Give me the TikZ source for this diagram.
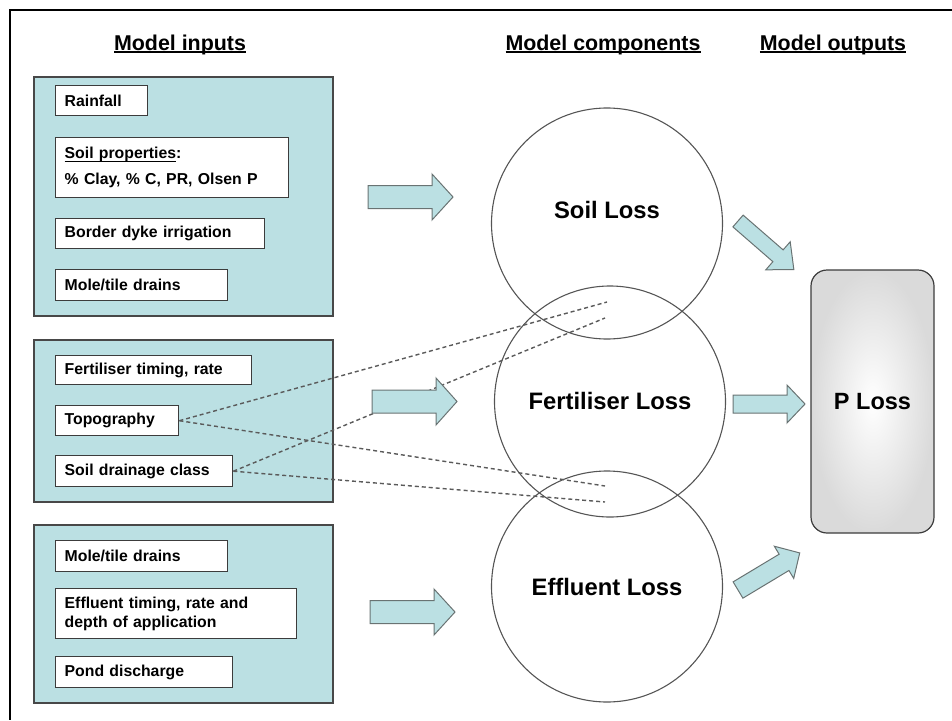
\documentclass[tikz,border=0pt]{standalone}
\usepackage{fontspec}
\setmainfont{Liberation Sans}
\definecolor{panelfill}{RGB}{187,224,227}
\definecolor{panelline}{RGB}{72,72,72}
\definecolor{boxline}{RGB}{60,60,60}
\definecolor{arrline}{RGB}{105,115,115}
\definecolor{circline}{RGB}{85,85,85}
\definecolor{dashcol}{RGB}{90,90,90}
\definecolor{plossout}{RGB}{218,218,218}
\newcommand{\myul}[2]{\setbox0\hbox{#2}\rlap{\rule[-3pt]{\wd0}{#1}}\box0}
\newcommand{\blockarrow}[6]{%
  \begin{scope}[shift={#1}, rotate=#2]
    \draw[barrow] (0,#4) -- ({#3-#6},#4) -- ({#3-#6},#5) -- (#3,0) -- ({#3-#6},-#5) -- ({#3-#6},-#4) -- (0,-#4) -- cycle;
  \end{scope}}
\begin{document}
\begin{tikzpicture}[x=1pt,y=-1pt,
  frame/.style={draw=black, line width=1.2pt},
  panel/.style={draw=panelline, fill=panelfill, line width=1.6pt, inner sep=0pt},
  inbox/.style={draw=boxline, fill=white, line width=1.4pt, anchor=north west,
    inner xsep=9pt, inner ysep=0pt, align=left,
    font=\bfseries\fontsize{15.8}{18}\selectfont},
  title/.style={anchor=base, font=\bfseries\fontsize{21.4}{24}\selectfont},
  circ/.style={draw=circline, circle, line width=1.1pt, minimum size=231pt, inner sep=0pt},
  ctext/.style={anchor=base, font=\bfseries\fontsize{23.8}{26}\selectfont},
  dashline/.style={draw=dashcol, line width=1.4pt, dash pattern=on 4pt off 3pt},
  barrow/.style={draw=arrline, fill=panelfill, line width=1pt, line join=miter},
  ploss/.style={draw=boxline, line width=1.2pt, rounded corners=16pt,
    minimum width=123pt, minimum height=263pt, inner color=white, outer color=plossout,
    font=\bfseries\fontsize{23.5}{26}\selectfont}
]
\useasboundingbox (0,0) rectangle (952,720);

% frame
\coordinate (fTR) at (952,10);
\coordinate (fTL) at (10,10);
\coordinate (fBL) at (10,720);
\draw[frame] (fTR) -- (fTL) -- (fBL);

% titles
\node[title] (t1) at (180,50) {\myul{1.6pt}{Model inputs}};
\node[title] (t2) at (603,50) {\myul{1.6pt}{Model components}};
\node[title] (t3) at (833,50) {\myul{1.6pt}{Model outputs}};

% panels
\node[panel, minimum width=299pt, minimum height=239pt] (p1) at (183.5,196.5) {};
\node[panel, minimum width=299pt, minimum height=162pt] (p2) at (183.5,421) {};
\node[panel, minimum width=299pt, minimum height=178pt] (p3) at (183.5,614) {};

% input boxes
\node[inbox, minimum width=92pt, minimum height=30pt, text width=74pt] (rain) at (55,85) {Rainfall};
\node[inbox, minimum width=233pt, minimum height=60pt, text width=215pt,
  font=\bfseries\fontsize{15.8}{26}\selectfont] (soilp) at (55,137)
  {\myul{1pt}{Soil properties}:\\\% Clay, \% C, PR, Olsen P};
\node[inbox, minimum width=209pt, minimum height=30pt, text width=191pt] (bdi) at (55,218) {Border dyke irrigation};
\node[inbox, minimum width=172pt, minimum height=31pt, text width=154pt] (mole1) at (55,269) {Mole/tile drains};

\node[inbox, minimum width=196pt, minimum height=29pt, text width=178pt] (fert) at (55,355) {Fertiliser timing, rate};
\node[inbox, minimum width=123pt, minimum height=30pt, text width=105pt] (topo) at (55,405) {Topography};
\node[inbox, minimum width=177pt, minimum height=31pt, text width=159pt] (sdc) at (55,455) {Soil drainage class};

\node[inbox, minimum width=172pt, minimum height=31pt, text width=154pt] (mole2) at (55,540) {Mole/tile drains};
\node[inbox, minimum width=241pt, minimum height=50pt, text width=223pt,
  font=\bfseries\fontsize{15.8}{19}\selectfont] (eff) at (55,588)
  {Effluent timing, rate and\\depth of application};
\node[inbox, minimum width=177pt, minimum height=31pt, text width=159pt] (pond) at (55,656) {Pond discharge};

% circles
\node[circ] (cs) at (607,223.5) {};
\node[circ] (cf) at (610,401.5) {};
\node[circ] (ce) at (607,586.5) {};
\node[ctext] (ts) at (607,218.5) {Soil Loss};
\node[ctext] (tf) at (610,409.5) {Fertiliser Loss};
\node[ctext] (te) at (607,595.5) {Effluent Loss};

% dashed links
\coordinate (d1) at (607,302);
\coordinate (d2) at (605,486);
\coordinate (d3) at (605,318);
\coordinate (d4) at (605,502);
\draw[dashline] (topo.east) -- (d1);
\draw[dashline] (topo.east) -- (d2);
\draw[dashline] (sdc.east) -- (d3);
\draw[dashline] (sdc.east) -- (d4);

% block arrows
\blockarrow{(368,197)}{0}{85}{11.5}{23}{21}
\blockarrow{(372,401.5)}{0}{85}{11.5}{23.5}{21}
\blockarrow{(370,612)}{0}{85}{11.5}{23}{21}
\blockarrow{(738,221)}{-41}{74}{7.8}{18.6}{21}
\blockarrow{(733,404)}{0}{72}{9}{19}{18}
\blockarrow{(738,590)}{31}{72}{9.5}{18.8}{18.3}

% output
\node[ploss] (pl) at (872.5,401.5) {P Loss};
\end{tikzpicture}
\end{document}
